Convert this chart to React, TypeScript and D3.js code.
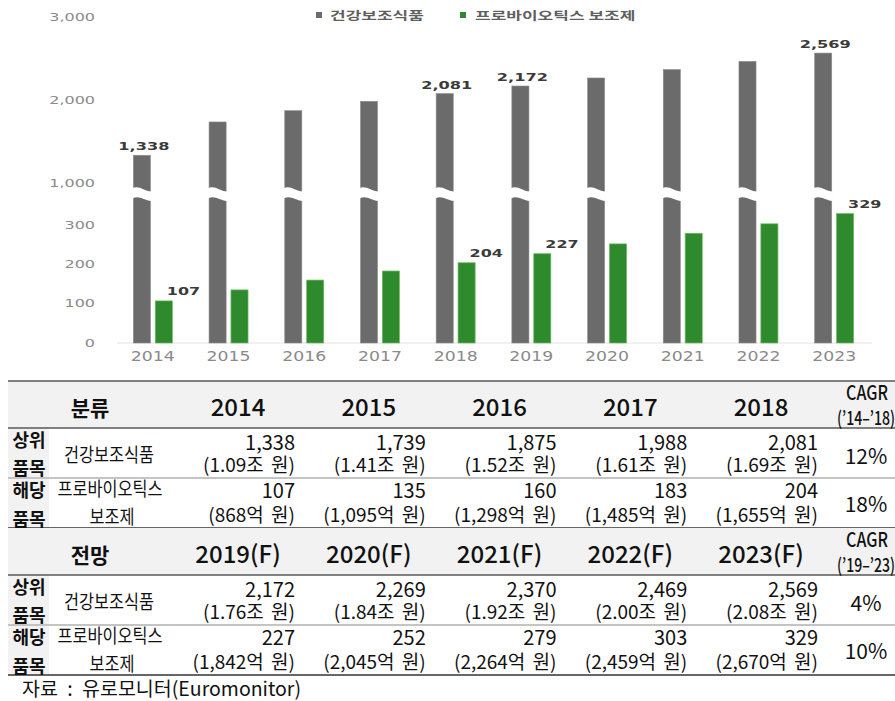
import React from "react";
import * as d3 from "d3";

// 차트 데이터 (단위: 백만 달러)
const years = ["2014", "2015", "2016", "2017", "2018", "2019", "2020", "2021", "2022", "2023"];
const healthValues = [1338, 1739, 1875, 1988, 2081, 2172, 2269, 2370, 2469, 2569];
const probioticValues = [107, 135, 160, 183, 204, 227, 252, 279, 303, 329];
const labeledYears = ["2014", "2018", "2019", "2023"];
const seriesNames = ["건강보조식품", "프로바이오틱스 보조제"];
const lowTicks = [0, 100, 200, 300];
const highTicks = [1000, 2000, 3000];

// 표 데이터
const histHeaders = ["2014", "2015", "2016", "2017", "2018"];
const foreHeaders = ["2019(F)", "2020(F)", "2021(F)", "2022(F)", "2023(F)"];
const histHealthKrw = ["1.09조 원", "1.41조 원", "1.52조 원", "1.61조 원", "1.69조 원"];
const foreHealthKrw = ["1.76조 원", "1.84조 원", "1.92조 원", "2.00조 원", "2.08조 원"];
const histProbioKrw = ["868억 원", "1,095억 원", "1,298억 원", "1,485억 원", "1,655억 원"];
const foreProbioKrw = ["1,842억 원", "2,045억 원", "2,264억 원", "2,459억 원", "2,670억 원"];
const histCagr = ["12%", "18%"];
const foreCagr = ["4%", "10%"];
const source = "자료 : 유로모니터(Euromonitor)";

const W = 895;
const H = 701;
const KR = "'Noto Sans CJK KR', sans-serif";
const DV = "'DejaVu Sans', sans-serif";
const GRAY = "#6b6b6b";
const GREEN = "#2e8a2c";
const fmt = d3.format(",");

function Txt({ x, y, sx = 1, anchor = "start", size, weight = 400, fill = "#111", family = KR, wordSpacing, children }: any) {
  return (
    <text
      transform={`translate(${x},${y}) scale(${sx},1)`}
      textAnchor={anchor}
      fontSize={size}
      fontWeight={weight}
      fill={fill}
      fontFamily={family}
      wordSpacing={wordSpacing}
    >
      {children}
    </text>
  );
}

function Chart() {
  const x = d3.scaleBand().domain(years).range([115, 872]).paddingInner(0.485).paddingOuter(0.2425);
  const xs = d3.scaleBand().domain(["h", "p"]).range([0, x.bandwidth()]).paddingInner(0.22);
  const yLow = d3.scaleLinear().domain([0, 300]).range([343, 225]);
  const yHigh = d3.scaleLinear().domain([1000, 3000]).range([183.3, 17.3]);
  const bw = xs.bandwidth();

  return (
    <g>
      {/* 범례 */}
      <rect x={316} y={12} width={6} height={6} fill={GRAY} />
      <Txt x={330} y={19.5} sx={1.48} size={11.5} weight={700} fill="#5f5f5f">{seriesNames[0]}</Txt>
      <rect x={460} y={12} width={6} height={6} fill={GREEN} />
      <Txt x={475} y={19.5} sx={1.48} size={11.5} weight={700} fill="#5f5f5f">{seriesNames[1]}</Txt>

      {/* y축 눈금 */}
      {highTicks.map((t) => (
        <Txt key={t} x={95} y={yHigh(t) + 3.5} sx={1.6} anchor="end" size={10} fill="#8a8a8a" family={DV}>
          {fmt(t)}
        </Txt>
      ))}
      {lowTicks.map((t) => (
        <Txt key={t} x={95} y={yLow(t) + 3.5} sx={1.6} anchor="end" size={10} fill="#8a8a8a" family={DV}>
          {fmt(t)}
        </Txt>
      ))}

      <line x1={117} x2={872} y1={yLow(0)} y2={yLow(0)} stroke="#e2e2e2" strokeWidth={1} />

      {years.map((yr, i) => {
        const gx = (x(yr) ?? 0) + (xs("h") ?? 0);
        const px = (x(yr) ?? 0) + (xs("p") ?? 0);
        const hv = healthValues[i];
        const pv = probioticValues[i];
        const x0 = gx - 1;
        const x1 = gx + bw + 1;
        const wave = `M${x0},188 C${gx + bw * 0.35},185 ${gx + bw * 0.6},191 ${x1},191.5 L${x1},201 C${gx + bw * 0.6},200.5 ${gx + bw * 0.35},195 ${x0},198.5 Z`;
        const showLabel = labeledYears.includes(yr);
        return (
          <g key={yr}>
            <rect x={gx} y={yHigh(hv)} width={bw} height={yLow(0) - yHigh(hv)} fill={GRAY} stroke="#8d8d8d" strokeWidth={0.6} />
            <path d={wave} fill="#fff" />
            <rect x={px} y={yLow(pv)} width={bw} height={yLow(0) - yLow(pv)} fill={GREEN} stroke="#6dbb64" strokeWidth={0.7} />
            {showLabel && (
              <Txt x={gx + bw / 2 + 2} y={yHigh(hv) - 5} sx={1.47} anchor="middle" size={11} weight={700} fill="#3a3a3a" family={DV}>
                {fmt(hv)}
              </Txt>
            )}
            {showLabel && (
              <Txt x={px + bw / 2 + 3} y={yLow(pv) - 6} sx={1.45} size={11} weight={700} fill="#3a3a3a" family={DV}>
                {fmt(pv)}
              </Txt>
            )}
            <Txt x={(x(yr) ?? 0) + x.bandwidth() / 2} y={361} sx={1.28} anchor="middle" size={13.5} fill="#8a8a8a" family={DV}>
              {yr}
            </Txt>
          </g>
        );
      })}
    </g>
  );
}

function Section({ top, label, headers, health, healthKrw, probio, probioKrw, cagrTitle, cagr, first }: any) {
  const colRight = d3.scaleLinear().domain([0, 4]).range([295, 818]);
  const r1 = top + 47;
  const r2 = top + 97;
  const dark = "#595959";
  const light = "#c4c4c4";
  return (
    <g>
      <rect x={8} y={top} width={W - 8} height={47} fill="#f2f2f2" />
      <rect x={8} y={r1} width={41} height={100} fill="#f2f2f2" />
      {first && <line x1={8} x2={W} y1={top} y2={top} stroke={dark} strokeWidth={1.5} />}
      <line x1={8} x2={W} y1={r1} y2={r1} stroke={dark} strokeWidth={1.5} />
      <line x1={8} x2={W} y1={r2} y2={r2} stroke={light} strokeWidth={2} />
      <line x1={8} x2={W} y1={top + 147} y2={top + 147} stroke="#333" strokeWidth={1.5} />

      <Txt x={90} y={top + 35} anchor="middle" size={21} weight={700}>{label}</Txt>
      {headers.map((h: string, i: number) => (
        <Txt key={h} x={colRight(i) - 57} y={top + 35} anchor="middle" size={24} weight={500}>{h}</Txt>
      ))}
      <Txt x={867} y={top + 19} anchor="middle" size={20} sx={0.8} weight={500}>CAGR</Txt>
      <Txt x={866} y={top + 44} anchor="middle" size={19} sx={0.74} weight={500}>{cagrTitle}</Txt>

      <Txt x={29} y={r1 + 19} anchor="middle" size={18} weight={700}>상위</Txt>
      <Txt x={29} y={r1 + 47} anchor="middle" size={18} weight={700}>품목</Txt>
      <Txt x={29} y={r2 + 19} anchor="middle" size={18} weight={700}>해당</Txt>
      <Txt x={29} y={r2 + 48} anchor="middle" size={18} weight={700}>품목</Txt>

      <Txt x={109} y={r1 + 34} anchor="middle" size={19} sx={0.86}>{seriesNames[0]}</Txt>
      <Txt x={110} y={r2 + 18} anchor="middle" size={19} sx={0.86}>프로바이오틱스</Txt>
      <Txt x={112} y={r2 + 46} anchor="middle" size={19} sx={0.86}>보조제</Txt>

      {health.map((v: number, i: number) => (
        <g key={i}>
          <Txt x={colRight(i)} y={r1 + 22} anchor="end" size={20}>{fmt(v)}</Txt>
          <Txt x={colRight(i)} y={r1 + 44} anchor="end" size={19} wordSpacing={3}>({healthKrw[i]})</Txt>
          <Txt x={colRight(i)} y={r2 + 20} anchor="end" size={20}>{fmt(probio[i])}</Txt>
          <Txt x={colRight(i)} y={r2 + 44} anchor="end" size={19} wordSpacing={3}>({probioKrw[i]})</Txt>
        </g>
      ))}
      <Txt x={866} y={r1 + 36} anchor="middle" size={21}>{cagr[0]}</Txt>
      <Txt x={866} y={r2 + 34} anchor="middle" size={21}>{cagr[1]}</Txt>
    </g>
  );
}

export default function App() {
  return (
    <svg
      width={W}
      height={H}
      viewBox={`0 0 ${W} ${H}`}
      style={{ position: "absolute", left: 0, top: 0, background: "#fff" }}
    >
      <Chart />
      <Section
        first
        top={381}
        label="분류"
        headers={histHeaders}
        health={healthValues.slice(0, 5)}
        healthKrw={histHealthKrw}
        probio={probioticValues.slice(0, 5)}
        probioKrw={histProbioKrw}
        cagrTitle="(’14–’18)"
        cagr={histCagr}
      />
      <Section
        top={528}
        label="전망"
        headers={foreHeaders}
        health={healthValues.slice(5)}
        healthKrw={foreHealthKrw}
        probio={probioticValues.slice(5)}
        probioKrw={foreProbioKrw}
        cagrTitle="(’19–’23)"
        cagr={foreCagr}
      />
      <Txt x={22} y={696} size={19.5} wordSpacing={5}>{source}</Txt>
    </svg>
  );
}
